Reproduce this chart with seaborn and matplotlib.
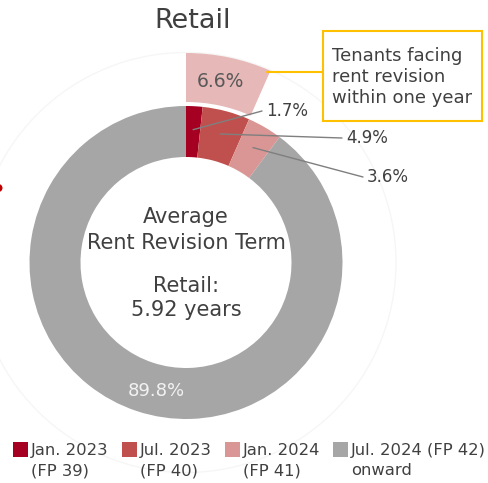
import numpy as np
import matplotlib
matplotlib.use("Agg")
import matplotlib.pyplot as plt
import matplotlib.patches as mpatches
import seaborn as sns

# data
periods = ["Jan. 2023\n(FP 39)", "Jul. 2023\n(FP 40)", "Jan. 2024\n(FP 41)",
           "Jul. 2024 (FP 42)\nonward"]
shares = [1.7, 4.9, 3.6, 89.8]
within_one_year = 6.6
avg_term_years = 5.92
segment = "Retail"

colors = ["#A50021", "#C0504D", "#DA9694", "#A6A6A6"]
outer_color = "#E6B8B7"
text_color = "#404040"

sns.set_theme(style="white")
plt.rcParams["font.family"] = ["DejaVu Sans"]

W, H = 488, 483
fig = plt.figure(figsize=(W / 100, H / 100), dpi=100)
ax = fig.add_axes([0, 0, 1, 1])


def Y(py):
    return H - py


cx, cy = 186, Y(262.5)
r_out, r_in = 156.5, 105.5

# faint ring behind the donut
ax.add_patch(mpatches.Circle((cx, cy), 210, fill=False, ec="#F6F6F6", lw=1.0))

# main donut
ax.pie(shares, colors=colors, radius=r_out, center=(cx, cy), startangle=90,
       counterclock=False, wedgeprops=dict(width=r_out - r_in, linewidth=0))

# outer wedge: tenants facing revision within one year
ax.pie([within_one_year, 100 - within_one_year], colors=[outer_color, "none"],
       radius=209.5, center=(cx, cy), startangle=90, counterclock=False,
       wedgeprops=dict(width=49, linewidth=0))

ax.set_xlim(0, W)
ax.set_ylim(0, H)
ax.set_aspect("equal")
ax.axis("off")


def polar(r, pct):
    th = np.deg2rad(90 - 360 * pct / 100)
    return cx + r * np.cos(th), cy + r * np.sin(th)


# leader labels for the small slices
label_ends = [(262, 111), (342, 138), (363, 177)]
cum = 0
for v, (ex, ey) in zip(shares[:3], label_ends):
    sx, sy = polar(133, cum + v / 2)
    ax.plot([sx, ex], [sy, Y(ey)], color="#7F7F7F", lw=1.0)
    ax.text(ex + 4, Y(ey), f"{v}%", ha="left", va="center", fontsize=12,
            color=text_color)
    cum += v

# outer wedge label
mx, my = polar(184, within_one_year / 2 - 0.3)
ax.text(mx, my, f"{within_one_year}%", ha="center", va="center",
        fontsize=13.5, color="#595959")

# big slice label
ax.text(156, Y(391), f"{shares[3]}%", ha="center", va="center", fontsize=13,
        color="#F2F2F2")

# callout
bx0, bx1, by0, by1 = 323, 482, 31, 121
ax.add_patch(mpatches.Rectangle((bx0, Y(by1)), bx1 - bx0, by1 - by0,
                                fill=True, fc="white", ec="#FFC000", lw=1.5))
ex, ey = polar(205, within_one_year)
ax.plot([ex - 2, bx0], [Y(72), Y(72)], color="#FFC000", lw=1.5)
ax.text(332, Y(77), "Tenants facing\nrent revision\nwithin one year",
        ha="left", va="center", fontsize=13, color=text_color,
        linespacing=1.2)

# title
ax.text(193, Y(21), segment, ha="center", va="center", fontsize=19.5,
        color=text_color)

# centre text
ax.text(cx, Y(217), "Average", ha="center", va="center", fontsize=15,
        color=text_color)
ax.text(cx, Y(243), "Rent Revision Term", ha="center", va="center",
        fontsize=15, color=text_color)
ax.text(cx, Y(286), f"{segment}:", ha="center", va="center", fontsize=15,
        color=text_color)
ax.text(cx, Y(310), f"{avg_term_years} years", ha="center", va="center",
        fontsize=15, color=text_color)

# stray marker at the left edge
ax.add_patch(mpatches.Circle((-1.5, Y(188)), 4, color="#C00000", lw=0))

# legend
leg_x = [13, 122, 225, 333]
for x, c, lab in zip(leg_x, colors, periods):
    ax.add_patch(mpatches.Rectangle((x, Y(457)), 15, 15, color=c, lw=0))
    ax.text(x + 18, Y(443), lab, ha="left", va="top", fontsize=11.8,
            color=text_color, linespacing=1.42)

fig.savefig("out.png", dpi=100)
